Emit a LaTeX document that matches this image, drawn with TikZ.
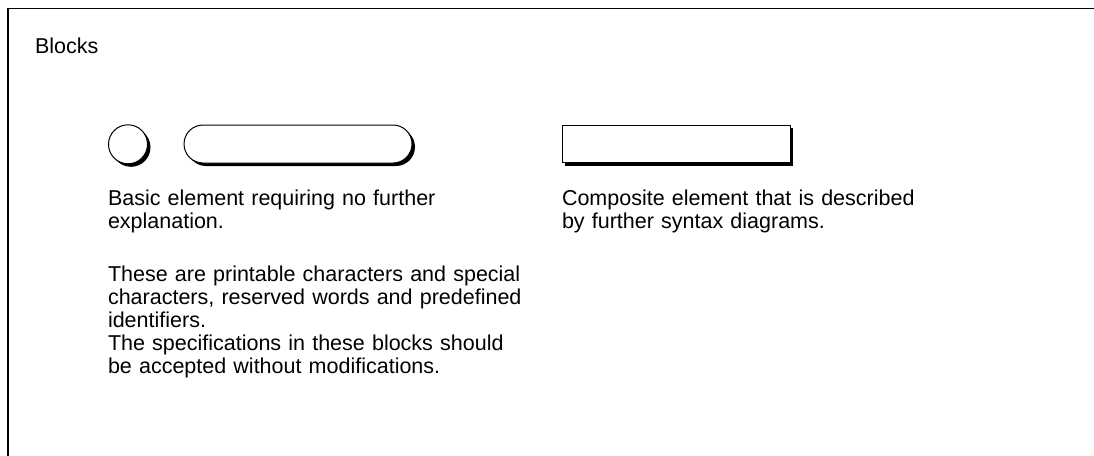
\documentclass[tikz,border=0pt]{standalone}
\usepackage{fontspec}
\setmainfont{Liberation Sans}
\usetikzlibrary{shapes.misc}
\tikzset{
  txt/.style={inner sep=0pt, outer sep=0pt, anchor=base west, align=left, text width=440pt,
    font=\fontsize{21.5}{23}\selectfont},
  block/.style={draw=black, line width=1pt, fill=white, inner sep=0pt, outer sep=0pt,
    preaction={fill=black, transform canvas={xshift=3pt, yshift=-3pt}}},
  frameline/.style={line width=1.6pt, line cap=rect}
}
\begin{document}
\begin{tikzpicture}[x=1pt, y=-1pt]
\useasboundingbox (0,0) rectangle (1094,455);
\coordinate (ftl) at (7.7,8.5);
\coordinate (ftr) at (1094,8.5);
\coordinate (fbl) at (7.7,455);
\draw[frameline] (ftr) -- (ftl) -- (fbl);
\node[txt] (title) at (35,53) {Blocks};
\node[block, circle, minimum size=39pt] (circ) at (128,144.3) {};
\node[block, rounded rectangle, minimum width=228pt, minimum height=38pt] (rbox) at (298,144) {};
\node[block, rectangle, minimum width=228pt, minimum height=37.5pt] (rect) at (676,143.8) {};
\node[txt] (basic) at (108,205) {Basic element requiring no further\\explanation.};
\node[txt] (these) at (108,281) {These are printable characters and special\\characters, reserved words and predefined\\identifiers.\\The specifications in these blocks should\\be accepted without modifications.};
\node[txt] (comp) at (562,205) {Composite element that is described\\by further syntax diagrams.};
\end{tikzpicture}
\end{document}
